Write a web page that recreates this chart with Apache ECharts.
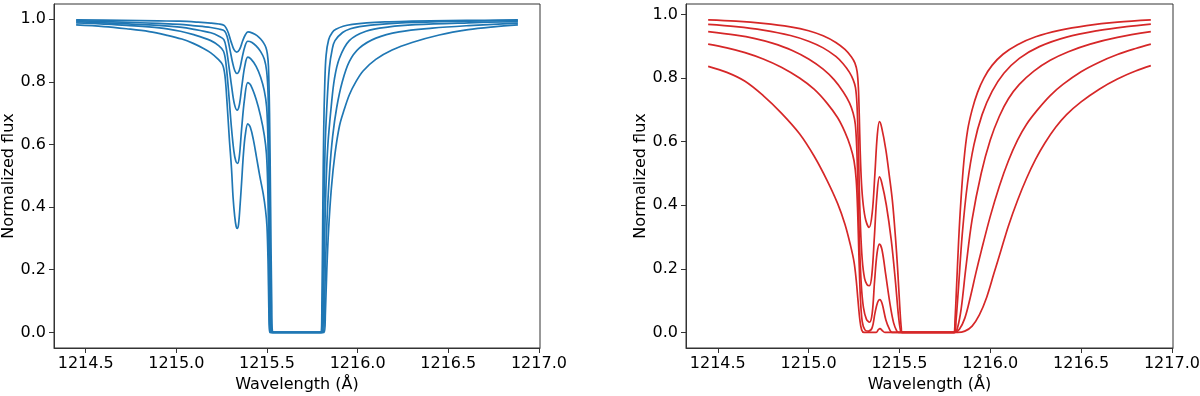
<!DOCTYPE html>
<html>
<head>
<meta charset="utf-8">
<script src="https://cdn.jsdelivr.net/npm/echarts@6/dist/echarts.min.js"></script>
<style>
  html, body { margin: 0; padding: 0; background: #fff; }
  #chart { width: 1200px; height: 396px; }
</style>
</head>
<body>
<div id="chart"></div>
<script>
// tick labels
var xTicks = [1214.5, 1215.0, 1215.5, 1216.0, 1216.5, 1217.0];
var yTicks = [0.0, 0.2, 0.4, 0.6, 0.8, 1.0];

// left panel (blue) - [wavelength, normalized flux]
var blue1 = [[1214.447,0.998],[1214.70,0.997],[1214.90,0.995],[1215.02,0.994],[1215.12,0.991],[1215.19,0.988],[1215.235,0.985],[1215.262,0.981],[1215.275,0.972],[1215.288,0.955],[1215.302,0.928],[1215.318,0.903],[1215.333,0.895],[1215.348,0.903],[1215.365,0.930],[1215.380,0.950],[1215.395,0.960],[1215.420,0.956],[1215.445,0.948],[1215.465,0.937],[1215.482,0.924],[1215.494,0.910],[1215.502,0.890],[1215.508,0.850],[1215.514,0.700],[1215.520,0.400],[1215.526,0.100],[1215.532,0],[1215.798,0],[1215.803,0.10],[1215.808,0.40],[1215.813,0.65],[1215.819,0.80],[1215.826,0.885],[1215.840,0.935],[1215.860,0.958],[1215.880,0.968],[1215.920,0.978],[1215.970,0.984],[1216.050,0.989],[1216.150,0.992],[1216.300,0.994],[1216.500,0.996],[1216.700,0.997],[1216.884,0.998]];
var blue2 = [[1214.447,0.996],[1214.70,0.991],[1214.90,0.987],[1215.02,0.984],[1215.09,0.980],[1215.19,0.974],[1215.235,0.969],[1215.265,0.963],[1215.280,0.945],[1215.295,0.905],[1215.310,0.862],[1215.323,0.835],[1215.335,0.827],[1215.348,0.838],[1215.362,0.875],[1215.378,0.913],[1215.394,0.930],[1215.415,0.927],[1215.440,0.915],[1215.465,0.897],[1215.485,0.873],[1215.498,0.835],[1215.506,0.760],[1215.512,0.550],[1215.518,0.250],[1215.523,0.050],[1215.527,0],[1215.802,0],[1215.807,0.10],[1215.813,0.35],[1215.820,0.58],[1215.830,0.72],[1215.844,0.845],[1215.860,0.905],[1215.875,0.932],[1215.917,0.958],[1215.960,0.970],[1216.010,0.977],[1216.140,0.985],[1216.320,0.990],[1216.610,0.994],[1216.884,0.996]];
var blue3 = [[1214.447,0.993],[1214.70,0.986],[1214.90,0.981],[1215.02,0.975],[1215.09,0.969],[1215.19,0.957],[1215.235,0.946],[1215.262,0.935],[1215.276,0.905],[1215.290,0.850],[1215.305,0.785],[1215.320,0.730],[1215.335,0.710],[1215.348,0.728],[1215.362,0.790],[1215.378,0.852],[1215.394,0.879],[1215.412,0.873],[1215.440,0.850],[1215.465,0.815],[1215.485,0.772],[1215.498,0.720],[1215.505,0.620],[1215.511,0.400],[1215.516,0.150],[1215.520,0.030],[1215.523,0],[1215.806,0],[1215.811,0.08],[1215.817,0.27],[1215.825,0.46],[1215.836,0.60],[1215.854,0.72],[1215.872,0.81],[1215.899,0.875],[1215.954,0.932],[1216.046,0.962],[1216.174,0.976],[1216.320,0.983],[1216.613,0.989],[1216.884,0.993]];
var blue4 = [[1214.447,0.989],[1214.60,0.985],[1214.724,0.981],[1214.907,0.973],[1215.022,0.962],[1215.09,0.952],[1215.19,0.932],[1215.235,0.915],[1215.260,0.898],[1215.273,0.862],[1215.288,0.770],[1215.303,0.660],[1215.317,0.580],[1215.328,0.547],[1215.337,0.540],[1215.347,0.560],[1215.360,0.650],[1215.376,0.745],[1215.394,0.798],[1215.410,0.790],[1215.440,0.745],[1215.465,0.690],[1215.485,0.630],[1215.497,0.570],[1215.504,0.470],[1215.509,0.300],[1215.514,0.100],[1215.518,0],[1215.811,0],[1215.816,0.06],[1215.823,0.22],[1215.832,0.37],[1215.845,0.51],[1215.862,0.625],[1215.885,0.72],[1215.915,0.80],[1215.954,0.865],[1216.009,0.908],[1216.101,0.940],[1216.229,0.960],[1216.412,0.972],[1216.613,0.980],[1216.884,0.988]];
var blue5 = [[1214.447,0.982],[1214.60,0.977],[1214.724,0.970],[1214.850,0.961],[1214.950,0.949],[1215.030,0.937],[1215.090,0.924],[1215.150,0.907],[1215.190,0.893],[1215.230,0.873],[1215.255,0.855],[1215.268,0.820],[1215.280,0.730],[1215.292,0.620],[1215.304,0.525],[1215.313,0.430],[1215.322,0.370],[1215.330,0.338],[1215.336,0.332],[1215.343,0.345],[1215.352,0.410],[1215.360,0.480],[1215.370,0.570],[1215.380,0.630],[1215.394,0.666],[1215.408,0.655],[1215.425,0.615],[1215.442,0.560],[1215.460,0.500],[1215.479,0.443],[1215.492,0.390],[1215.500,0.337],[1215.506,0.220],[1215.510,0.080],[1215.514,0],[1215.816,0],[1215.822,0.06],[1215.830,0.20],[1215.840,0.33],[1215.855,0.46],[1215.875,0.57],[1215.900,0.66],[1215.925,0.71],[1215.955,0.76],[1215.990,0.80],[1216.030,0.835],[1216.100,0.872],[1216.190,0.902],[1216.300,0.926],[1216.450,0.950],[1216.610,0.967],[1216.750,0.976],[1216.884,0.982]];

// right panel (red)
var red1 = [[1214.447,0.983],[1214.60,0.979],[1214.75,0.972],[1214.90,0.961],[1215.00,0.949],[1215.08,0.933],[1215.15,0.912],[1215.20,0.890],[1215.235,0.867],[1215.255,0.847],[1215.267,0.820],[1215.274,0.770],[1215.279,0.680],[1215.284,0.570],[1215.291,0.470],[1215.301,0.400],[1215.315,0.352],[1215.333,0.330],[1215.350,0.375],[1215.365,0.500],[1215.378,0.620],[1215.390,0.663],[1215.402,0.645],[1215.425,0.575],[1215.445,0.490],[1215.462,0.410],[1215.478,0.300],[1215.490,0.200],[1215.502,0.080],[1215.510,0.015],[1215.516,0],[1215.800,0],[1215.806,0.04],[1215.815,0.15],[1215.826,0.29],[1215.838,0.41],[1215.855,0.54],[1215.875,0.635],[1215.900,0.700],[1215.930,0.755],[1215.965,0.800],[1216.010,0.840],[1216.070,0.875],[1216.150,0.905],[1216.250,0.930],[1216.380,0.950],[1216.530,0.965],[1216.700,0.976],[1216.884,0.983]];
var red2 = [[1214.447,0.969],[1214.60,0.962],[1214.75,0.951],[1214.90,0.934],[1215.00,0.916],[1215.08,0.895],[1215.15,0.868],[1215.19,0.845],[1215.225,0.818],[1215.245,0.795],[1215.258,0.770],[1215.266,0.720],[1215.272,0.620],[1215.278,0.480],[1215.285,0.340],[1215.295,0.230],[1215.308,0.170],[1215.322,0.150],[1215.335,0.147],[1215.348,0.180],[1215.362,0.300],[1215.376,0.430],[1215.390,0.489],[1215.403,0.470],[1215.428,0.400],[1215.455,0.290],[1215.478,0.160],[1215.495,0.050],[1215.505,0.008],[1215.512,0],[1215.803,0],[1215.812,0.04],[1215.825,0.14],[1215.846,0.31],[1215.875,0.47],[1215.910,0.59],[1215.955,0.685],[1216.010,0.758],[1216.075,0.815],[1216.160,0.862],[1216.270,0.899],[1216.420,0.929],[1216.600,0.950],[1216.750,0.962],[1216.884,0.970]];
var red3 = [[1214.447,0.946],[1214.60,0.935],[1214.70,0.925],[1214.80,0.910],[1214.91,0.887],[1215.00,0.860],[1215.08,0.828],[1215.14,0.795],[1215.19,0.757],[1215.225,0.722],[1215.245,0.690],[1215.257,0.655],[1215.265,0.580],[1215.272,0.450],[1215.280,0.280],[1215.290,0.150],[1215.302,0.078],[1215.318,0.042],[1215.335,0.032],[1215.350,0.060],[1215.363,0.160],[1215.377,0.250],[1215.390,0.278],[1215.404,0.260],[1215.425,0.180],[1215.448,0.090],[1215.468,0.030],[1215.485,0.005],[1215.495,0],[1215.805,0],[1215.820,0.015],[1215.840,0.075],[1215.865,0.200],[1215.900,0.355],[1215.950,0.500],[1216.000,0.605],[1216.050,0.680],[1216.100,0.735],[1216.160,0.780],[1216.240,0.822],[1216.330,0.856],[1216.430,0.883],[1216.550,0.907],[1216.700,0.928],[1216.884,0.946]];
var red4 = [[1214.447,0.907],[1214.55,0.895],[1214.65,0.880],[1214.75,0.860],[1214.85,0.834],[1214.95,0.800],[1215.03,0.765],[1215.10,0.722],[1215.16,0.675],[1215.20,0.630],[1215.23,0.585],[1215.25,0.540],[1215.262,0.480],[1215.270,0.380],[1215.277,0.240],[1215.285,0.110],[1215.295,0.035],[1215.310,0.008],[1215.330,0.004],[1215.350,0.015],[1215.365,0.060],[1215.380,0.095],[1215.392,0.103],[1215.405,0.090],[1215.425,0.040],[1215.445,0.010],[1215.460,0],[1215.805,0],[1215.830,0.010],[1215.860,0.045],[1215.890,0.110],[1215.920,0.185],[1215.950,0.255],[1216.000,0.365],[1216.050,0.460],[1216.100,0.540],[1216.150,0.605],[1216.200,0.655],[1216.260,0.700],[1216.330,0.745],[1216.400,0.780],[1216.500,0.820],[1216.600,0.850],[1216.700,0.874],[1216.800,0.893],[1216.884,0.907]];
var red5 = [[1214.447,0.837],[1214.55,0.818],[1214.65,0.790],[1214.75,0.745],[1214.85,0.690],[1214.95,0.625],[1215.03,0.555],[1215.10,0.480],[1215.16,0.405],[1215.20,0.340],[1215.23,0.275],[1215.25,0.222],[1215.262,0.165],[1215.272,0.100],[1215.282,0.040],[1215.292,0.008],[1215.305,0],[1215.372,0],[1215.383,0.008],[1215.393,0.012],[1215.405,0.006],[1215.420,0],[1215.820,0],[1215.860,0.004],[1215.900,0.020],[1215.940,0.055],[1215.980,0.110],[1216.020,0.185],[1216.060,0.260],[1216.100,0.335],[1216.150,0.415],[1216.200,0.485],[1216.250,0.545],[1216.300,0.595],[1216.360,0.645],[1216.420,0.685],[1216.500,0.725],[1216.600,0.765],[1216.700,0.797],[1216.800,0.822],[1216.884,0.839]];

var blueLines = [blue1, blue2, blue3, blue4, blue5];
var redLines = [red1, red2, red3, red4, red5];

var font = 'DejaVu Sans';
var ink = '#000';

function xAxisFor(gridIndex) {
    return {
        type: 'value',
        gridIndex: gridIndex,
        min: 1214.325,
        max: 1217.006,
        name: 'Wavelength (Å)',
        nameLocation: 'middle',
        nameGap: 29,
        nameTextStyle: { fontFamily: font, fontSize: 16, color: ink },
        splitLine: { show: false },
        axisLine: { onZero: false, lineStyle: { color: '#333', width: 1 } },
        axisTick: { show: true, inside: false, length: 5, customValues: xTicks, lineStyle: { color: '#333' } },
        axisLabel: {
            customValues: xTicks,
            margin: 8,
            fontFamily: font, fontSize: 16, color: ink,
            formatter: function (v) { return v.toFixed(1); }
        }
    };
}

function yAxisFor(gridIndex, min, max) {
    return {
        type: 'value',
        gridIndex: gridIndex,
        min: min,
        max: max,
        name: 'Normalized flux',
        nameLocation: 'middle',
        nameGap: 36,
        nameTextStyle: { fontFamily: font, fontSize: 16, color: ink },
        splitLine: { show: false },
        axisLine: { onZero: false, lineStyle: { color: '#333', width: 1 } },
        axisTick: { show: true, inside: false, length: 5, customValues: yTicks, lineStyle: { color: '#333' } },
        axisLabel: {
            customValues: yTicks,
            margin: 8,
            fontFamily: font, fontSize: 16, color: ink,
            formatter: function (v) { return v.toFixed(1); }
        }
    };
}

function lineSeries(data, idx, color) {
    return {
        type: 'line',
        xAxisIndex: idx,
        yAxisIndex: idx,
        data: data,
        showSymbol: false,
        smooth: 0.35,
        lineStyle: { color: color, width: 1.7 },
        silent: true,
        animation: false
    };
}

var series = [];
blueLines.forEach(function (d) { series.push(lineSeries(d, 0, '#1f77b4')); });
redLines.forEach(function (d) { series.push(lineSeries(d, 1, '#d62728')); });

var chart = echarts.init(document.getElementById('chart'), null, { renderer: 'canvas' });
chart.setOption({
    backgroundColor: '#fff',
    animation: false,
    grid: [
        { left: 54, top: 4, width: 486, height: 344, show: true, borderColor: '#333', borderWidth: 1, containLabel: false, outerBoundsMode: 'none' },
        { left: 686, top: 4, width: 487, height: 344, show: true, borderColor: '#333', borderWidth: 1, containLabel: false, outerBoundsMode: 'none' }
    ],
    xAxis: [xAxisFor(0), xAxisFor(1)],
    yAxis: [yAxisFor(0, -0.05, 1.049), yAxisFor(1, -0.049, 1.033)],
    series: series
});
</script>
</body>
</html>
